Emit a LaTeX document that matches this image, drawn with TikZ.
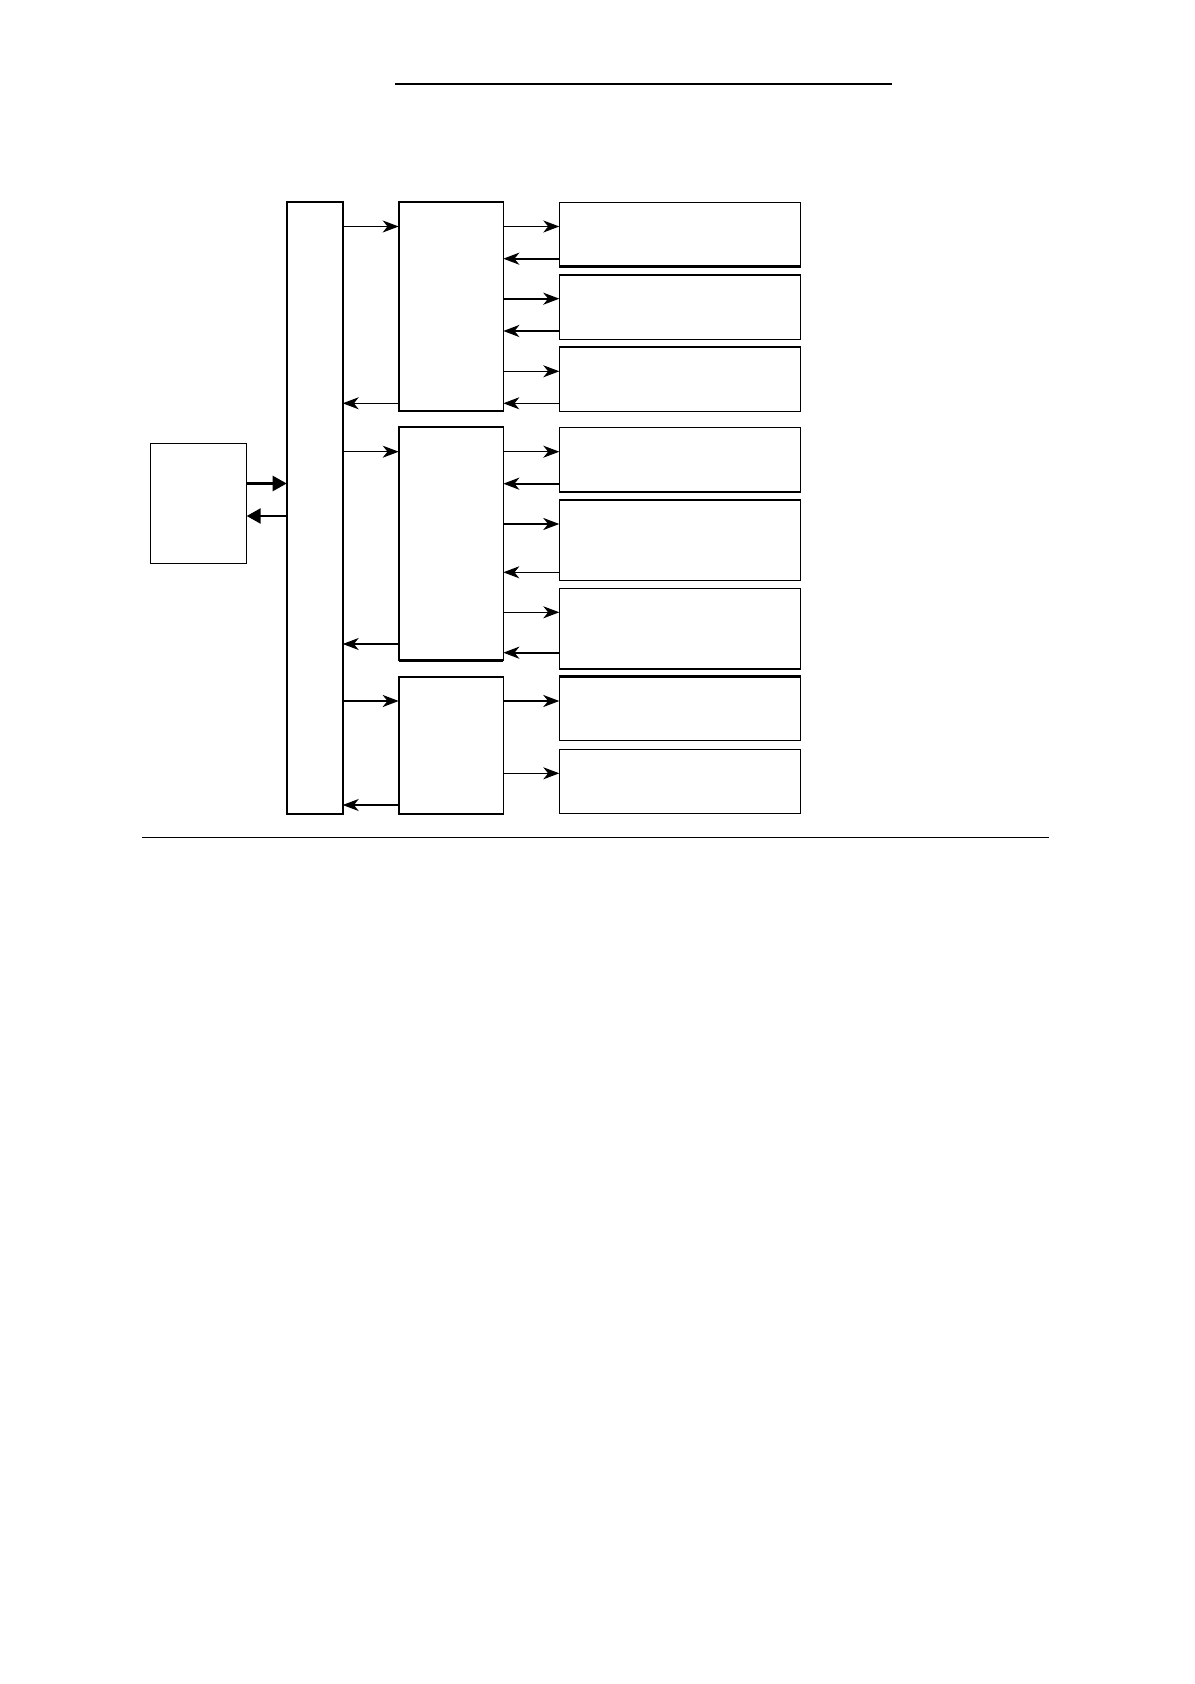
\documentclass[tikz,border=0pt]{standalone}
\usetikzlibrary{arrows.meta,fit}
\begin{document}
\begin{tikzpicture}[x=0.5pt,y=-0.5pt,
  box/.style={draw,line width=0.6pt,inner sep=0pt,outer sep=0pt},
  busbox/.style={draw,line width=0.9pt,inner sep=0pt,outer sep=0pt},
  thinarr/.style={line width=0.55pt,-{Stealth[length=8pt,width=6pt,inset=2.4pt]}},
  thickarr/.style={line width=1.1pt,-{Stealth[length=8pt,width=6pt,inset=2.4pt]}},
  triarr/.style={line width=1.2pt,-{Triangle[length=7pt,width=7.5pt]}},
  thickedge/.style={line width=1.2pt},
  rule/.style={line width=0.6pt}]
\useasboundingbox (0,0) rectangle (1194,1684);
% rules
\coordinate (t1) at (395,84); \coordinate (t2) at (892,84);
\draw[line width=1.3pt] (t1) -- (t2);
\coordinate (b1) at (142,837.5); \coordinate (b2) at (1049,837.5);
\draw[rule] (b1) -- (b2);
% boxes
\node[busbox,fit={(286.7,202) (342.7,813.7)}] (bus) {};
\node[box,fit={(150.3,443.3) (246.7,563.6)}] (L) {};
\node[box,line width=0.8pt,fit={(398.7,202) (503.3,411.3)}] (A1) {};
\node[box,line width=0.8pt,fit={(398.7,427.3) (503.3,660.3)}] (A2) {};
\node[box,line width=0.8pt,fit={(398.7,677) (503.3,813.7)}] (A3) {};
\node[box,fit={(559.3,202.3) (800.7,266.7)}] (R1) {};
\node[box,fit={(559.3,275) (800.7,339.3)}] (R2) {};
\node[box,fit={(559.3,347) (800.7,411.3)}] (R3) {};
\node[box,fit={(559.3,427.3) (800.7,491.7)}] (R4) {};
\node[box,fit={(559.3,500) (800.7,580.3)}] (R5) {};
\node[box,fit={(559.3,588.7) (800.7,668.7)}] (R6) {};
\node[box,fit={(559.3,676.3) (800.7,740.7)}] (R7) {};
\node[box,fit={(559.3,749.3) (800.7,813.7)}] (R8) {};
% heavier edges
\draw[thickedge] (R1.south west) -- (R1.south east);
\draw[thickedge] (R2.north west) -- (R2.north east);
\draw[thickedge] (R4.south west) -- (R4.south east);
\draw[thickedge] (R5.north west) -- (R5.north east);
\draw[thickedge] (R6.south west) -- (R6.south east);
\draw[thickedge] (R7.north west) -- (R7.north east);
\draw[thickedge] (A2.south west) -- (A2.south east);
% left box <-> bus
\draw[triarr] (L.east |- 0,483.5) -- (bus.west |- 0,483.5);
\draw[triarr] (bus.west |- 0,516) -- (L.east |- 0,516);
% bus <-> middle column
\draw[thinarr] (bus.east |- 0,226.5) -- (A1.west |- 0,226.5);
\draw[thinarr] (A1.west |- 0,403.3) -- (bus.east |- 0,403.3);
\draw[thinarr] (bus.east |- 0,451.7) -- (A2.west |- 0,451.7);
\draw[thinarr] (A2.west |- 0,644) -- (bus.east |- 0,644);
\draw[thickarr] (bus.east |- 0,701) -- (A3.west |- 0,701);
\draw[thinarr] (A3.west |- 0,805) -- (bus.east |- 0,805);
% middle column <-> right boxes
\draw[thinarr] (A1.east |- 0,226.5) -- (R1.west |- 0,226.5);
\draw[thickarr] (R1.west |- 0,258.7) -- (A1.east |- 0,258.7);
\draw[thickarr] (A1.east |- 0,298.7) -- (R2.west |- 0,298.7);
\draw[thickarr] (R2.west |- 0,331) -- (A1.east |- 0,331);
\draw[thinarr] (A1.east |- 0,371.3) -- (R3.west |- 0,371.3);
\draw[thinarr] (R3.west |- 0,403.3) -- (A1.east |- 0,403.3);
\draw[thinarr] (A2.east |- 0,451.7) -- (R4.west |- 0,451.7);
\draw[thickarr] (R4.west |- 0,483.7) -- (A2.east |- 0,483.7);
\draw[thickarr] (A2.east |- 0,524) -- (R5.west |- 0,524);
\draw[thinarr] (R5.west |- 0,572.3) -- (A2.east |- 0,572.3);
\draw[thinarr] (A2.east |- 0,612.3) -- (R6.west |- 0,612.3);
\draw[thickarr] (R6.west |- 0,652.7) -- (A2.east |- 0,652.7);
\draw[thickarr] (A3.east |- 0,701) -- (R7.west |- 0,701);
\draw[thinarr] (A3.east |- 0,773.3) -- (R8.west |- 0,773.3);
\end{tikzpicture}
\end{document}
